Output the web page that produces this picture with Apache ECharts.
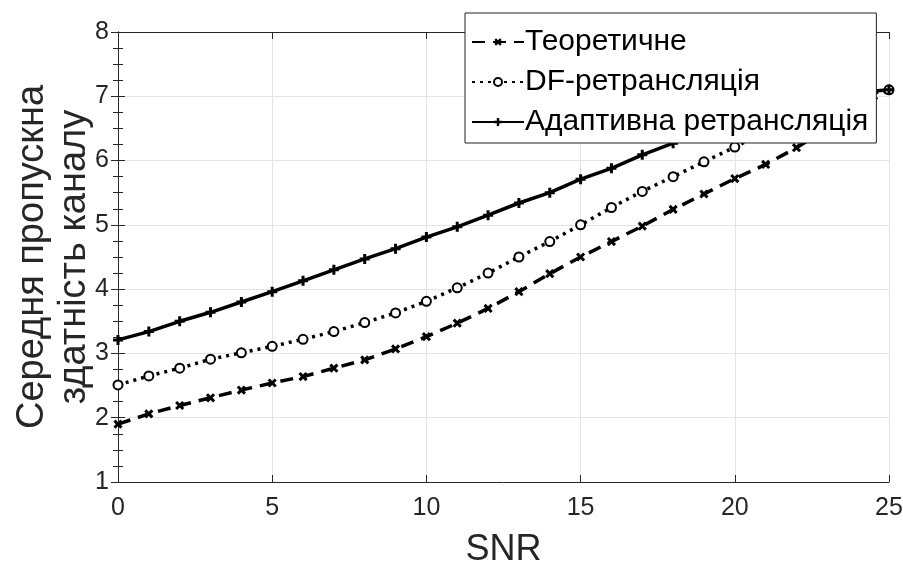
<!DOCTYPE html>
<html>
<head>
<meta charset="utf-8">
<script src="https://cdn.jsdelivr.net/npm/echarts@6/dist/echarts.min.js"></script>
<style>
  html, body { margin: 0; padding: 0; background: #fff; }
  #chart { width: 903px; height: 565px; }
</style>
</head>
<body>
<div id="chart"></div>
<script>
const snr = [0, 1, 2, 3, 4, 5, 6, 7, 8, 9, 10, 11, 12, 13, 14, 15, 16, 17, 18, 19, 20, 21, 22, 23, 24, 25];

const theoretical = [1.90, 2.06, 2.19, 2.31, 2.43, 2.54, 2.64, 2.77, 2.90, 3.07, 3.26, 3.47, 3.70,
  3.96, 4.24, 4.50, 4.74, 4.98, 5.24, 5.48, 5.72, 5.94, 6.20, 6.50, 6.80, 7.10];
const dfRelay = [2.51, 2.65, 2.77, 2.91, 3.01, 3.11, 3.22, 3.34, 3.48, 3.63, 3.81, 4.02, 4.25,
  4.50, 4.74, 5.00, 5.27, 5.52, 5.75, 5.98, 6.21, 6.45, 6.67, 6.86, 7.00, 7.10];
const adaptive = [3.21, 3.34, 3.50, 3.64, 3.80, 3.96, 4.13, 4.30, 4.47, 4.63, 4.81, 4.97, 5.15,
  5.34, 5.50, 5.71, 5.88, 6.09, 6.27, 6.45, 6.62, 6.77, 6.90, 7.00, 7.06, 7.10];

const seriesNames = ['Теоретичне', 'DF-ретрансляція', 'Адаптивна ретрансляція'];
const xTicks = [0, 5, 10, 15, 20, 25];
const yTicks = [1, 2, 3, 4, 5, 6, 7, 8];

const font = '"Liberation Sans", Arial, sans-serif';
const axisColor = '#262626';
const plusPath = 'path://M3.5,0H6.5V3.5H10V6.5H6.5V10H3.5V6.5H0V3.5H3.5Z';

const pairs = (ys) => snr.map((x, i) => [x, ys[i]]);

const chart = echarts.init(document.getElementById('chart'));

const baseX = {
  type: 'value',
  min: xTicks[0],
  max: xTicks[xTicks.length - 1],
  interval: 5,
  axisLine: { show: true, lineStyle: { color: axisColor, width: 1 } },
  axisTick: { show: true, inside: true, length: 7, lineStyle: { color: axisColor } },
  splitLine: { show: false }
};
const baseY = {
  type: 'value',
  min: yTicks[0],
  max: yTicks[yTicks.length - 1],
  interval: 1,
  axisLine: { show: true, lineStyle: { color: axisColor, width: 1 } },
  axisTick: { show: true, inside: true, length: 7, lineStyle: { color: axisColor } },
  minorTick: { show: true, splitNumber: 4, length: 5, lineStyle: { color: axisColor } },
  splitLine: { show: false }
};

chart.setOption({
  animation: false,
  backgroundColor: '#fff',
  textStyle: { fontFamily: font },
  grid: { left: 118, right: 14, top: 32, bottom: 83, containLabel: false, outerBoundsMode: 'none' },
  legend: {
    data: seriesNames,
    orient: 'vertical',
    left: 465,
    top: 13,
    padding: [14, 8, 6, 6],
    itemGap: 10,
    itemWidth: 52,
    itemHeight: 10,
    backgroundColor: '#fff',
    borderColor: '#222',
    borderWidth: 1,
    borderRadius: 0,
    textStyle: { fontSize: 30, color: '#000', fontFamily: font, padding: [0, 0, 0, -4] },
    z: 10
  },
  xAxis: [
    Object.assign({}, baseX, {
      name: 'SNR',
      nameLocation: 'middle',
      nameGap: 50,
      nameMoveOverlap: false,
      nameTextStyle: { fontSize: 36, color: axisColor, fontFamily: font },
      axisLabel: { fontSize: 25, color: axisColor, margin: 14, fontFamily: font },
      splitLine: { show: true, lineStyle: { color: '#e3e3e3', width: 1 } }
    }),
    Object.assign({}, baseX, { position: 'top', axisLabel: { show: false } })
  ],
  yAxis: [
    Object.assign({}, baseY, {
      name: 'Середня пропускна\nздатність каналу',
      nameLocation: 'middle',
      nameGap: 22,
      nameMoveOverlap: false,
      nameTextStyle: { fontSize: 38, lineHeight: 42, color: axisColor, fontFamily: font },
      axisLabel: { fontSize: 25, color: axisColor, margin: 9, fontFamily: font },
      splitLine: { show: true, lineStyle: { color: '#e3e3e3', width: 1 } }
    }),
    Object.assign({}, baseY, { position: 'right', axisLabel: { show: false } })
  ],
  series: [
    {
      name: seriesNames[0],
      type: 'line',
      data: pairs(theoretical),
      symbol: plusPath,
      symbolRotate: 45,
      symbolSize: 10,
      showAllSymbol: true,
      lineStyle: { color: '#000', width: 3.5, type: [13, 8] },
      itemStyle: { color: '#000' },
      z: 3
    },
    {
      name: seriesNames[1],
      type: 'line',
      data: pairs(dfRelay),
      symbol: 'emptyCircle',
      symbolSize: 9,
      showAllSymbol: true,
      lineStyle: { color: '#000', width: 3.5, type: [3, 5] },
      itemStyle: { color: '#000', borderColor: '#000', borderWidth: 2.5 },
      z: 3
    },
    {
      name: seriesNames[2],
      type: 'line',
      data: pairs(adaptive),
      symbol: plusPath,
      symbolSize: 10,
      showAllSymbol: true,
      lineStyle: { color: '#000', width: 3.5 },
      itemStyle: { color: '#000' },
      z: 3
    }
  ]
});
</script>
</body>
</html>
